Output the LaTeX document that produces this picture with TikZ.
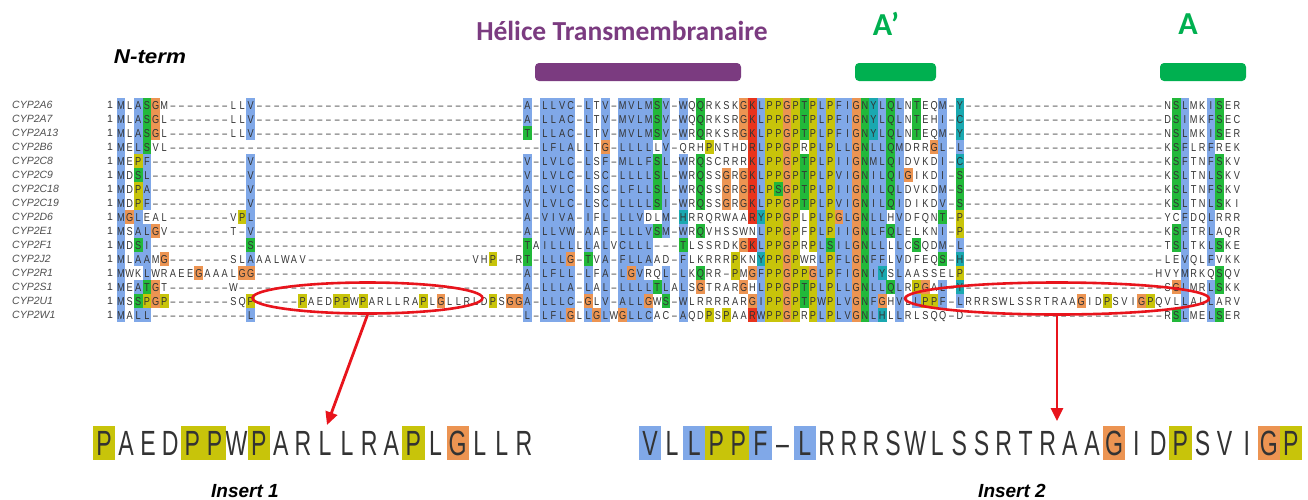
\documentclass[tikz,border=0pt]{standalone}
\usepackage{fontspec}
\setmainfont{Liberation Sans}
\newfontfamily\carlito{Carlito}
\usepackage{graphicx}
\usetikzlibrary{shapes.geometric,arrows.meta}

\definecolor{resb}{HTML}{80A8E8}
\definecolor{resg}{HTML}{22B83A}
\definecolor{resr}{HTML}{E8331C}
\definecolor{resc}{HTML}{1AA8B0}
\definecolor{reso}{HTML}{EC9452}
\definecolor{resy}{HTML}{C8C40A}
\definecolor{restxt}{HTML}{333333}
\definecolor{lblgray}{HTML}{505050}
\definecolor{helixpurple}{HTML}{7B3B80}
\definecolor{officegreen}{HTML}{00B050}
\definecolor{ellred}{HTML}{E8141C}

\newcount\ccol
\gdef\pendcol{n}
\def\sqxo{121}\def\sqp{8.65}\def\sqy{105}\def\sqhw{4.4}\def\sqhh{7.05}
\def\segname{a}
\newcommand\resfmt[1]{\scalebox{0.8}[1]{#1}}
\newcommand\gapfmt{\scalebox{0.75}[1]{–}}

\def\alcell#1{%
  \pgfmathsetmacro\cx{\sqxo+\sqp*\the\ccol}%
  \edef\cc{\pendcol}%
  \if G#1\def\cc{o}\fi
  \if P#1\def\cc{y}\fi
  \if n\cc\else
    \edef\cellcol{res\cc}%
    \fill[fill=\cellcol] (\cx-\sqhw,\sqy-\sqhh) rectangle (\cx+\sqhw,\sqy+\sqhh);%
  \fi
  \if -#1%
    \node[curres] (\segname-\the\ccol) at (\cx,\sqy) {\gapfmt};%
  \else
    \node[curres] (\segname-\the\ccol) at (\cx,\sqy) {\resfmt{#1}};%
  \fi}

\def\segloop#1{%
  \ifx\relax#1\let\segnext\relax
  \else
    \if b#1\gdef\pendcol{b}\let\segnext\segloop\else
    \if g#1\gdef\pendcol{g}\let\segnext\segloop\else
    \if r#1\gdef\pendcol{r}\let\segnext\segloop\else
    \if c#1\gdef\pendcol{c}\let\segnext\segloop\else
      \alcell{#1}\gdef\pendcol{n}\global\advance\ccol by 1\relax\let\segnext\segloop
    \fi\fi\fi\fi
  \fi\segnext}

% \seg{row}{startcol}{string}
\def\seg#1#2#3{%
  \pgfmathsetmacro\sqy{105+14*(#1-1)}%
  \def\segname{a#1}%
  \global\ccol=#2\relax\gdef\pendcol{n}%
  \segloop#3\relax}
% \dashrun{row}{from}{to}
\def\dashrun#1#2#3{%
  \foreach \k in {#2,...,#3}{%
    \pgfmathsetmacro\cx{121+8.65*\k}%
    \pgfmathsetmacro\cy{105+14*(#1-1)}%
    \node[curres] (a#1-\k) at (\cx,\cy) {\gapfmt};}}
% \iseg{name}{x of first}{string}
\def\iseg#1#2#3{%
  \def\sqxo{#2}\def\sqp{22.1}\def\sqy{443}\def\sqhw{11.1}\def\sqhh{17}%
  \def\segname{#1}%
  \global\ccol=0\relax\gdef\pendcol{n}%
  \segloop#3\relax}

\begin{document}
\begin{tikzpicture}[x=1pt,y=-1pt,
  resid/.style={inner sep=0pt, text=restxt, text height=8.2pt, text depth=0pt, font=\fontsize{11.5}{12}\selectfont},
  insres/.style={inner sep=0pt, text=restxt, text height=25pt, text depth=0pt, font=\fontsize{35}{36}\selectfont},
  curres/.style={resid},
  lbl/.style={anchor=west, inner sep=0pt, text=lblgray, text height=7.5pt, text depth=0pt, font=\fontsize{10.5}{12}\selectfont\itshape},
  numlbl/.style={inner sep=0pt, text=restxt, text height=7.5pt, text depth=0pt, font=\fontsize{10.5}{12}\selectfont},
  ntermlbl/.style={inner sep=0pt, font=\fontsize{20}{22}\selectfont\bfseries\itshape},
  helixlbl/.style={inner sep=0pt, text=helixpurple, font=\carlito\fontsize{27.5}{30}\selectfont\bfseries},
  greenlbl/.style={inner sep=0pt, text=officegreen, font=\carlito\fontsize{32}{34}\selectfont\bfseries},
  bar/.style={rounded corners=4pt, inner sep=0pt, minimum height=18pt},
  ell/.style={ellipse, draw=ellred, line width=2.6pt, inner sep=0pt},
  redarrow/.style={draw=ellred, line width=2.8pt, -{Triangle[length=13pt,width=12pt]}},
  inslbl/.style={inner sep=0pt, font=\fontsize{19}{21}\selectfont\bfseries\itshape}
]
\useasboundingbox (0,0) rectangle (1308,499);
\fill[white] (0,0) rectangle (1308,499);

% ---- top annotations
\node[ntermlbl] (nterm) at (150,57) {\scalebox{1.12}[1]{N-term}};
\node[helixlbl] (helixlbl) at (622,31) {Hélice Transmembranaire};
\node[greenlbl] (aplbl) at (886,24) {A’};
\node[greenlbl] (albl) at (1188,24) {A};
\node[bar, fill=helixpurple, minimum width=206pt] (helixbar) at (638,72) {};
\node[bar, fill=officegreen, minimum width=81pt] (apbar) at (895.5,72) {};
\node[bar, fill=officegreen, minimum width=86pt] (abar) at (1203,72) {};

% ---- row labels
\foreach \nm [count=\i] in {CYP2A6,CYP2A7,CYP2A13,CYP2B6,CYP2C8,CYP2C9,CYP2C18,CYP2C19,CYP2D6,CYP2E1,CYP2F1,CYP2J2,CYP2R1,CYP2S1,CYP2U1,CYP2W1}{
  \node[lbl] (lab\i) at (12,{105+14*(\i-1)}) {\nm};
  \node[numlbl] (num\i) at (110,{105+14*(\i-1)}) {1};
}

% ---- N-terminal part (cols 0-46)
\seg{1}{0}{bMLbAgSGM-------LLbV}\dashrun{1}{16}{46}
\seg{2}{0}{bMLbAgSGL-------LLbV}\dashrun{2}{16}{46}
\seg{3}{0}{bMLbAgSGL-------LLbV}\dashrun{3}{16}{46}
\seg{4}{0}{bMEbLgSVL}\dashrun{4}{6}{46}
\seg{5}{0}{bMEPbF-----------bV}\dashrun{5}{16}{46}
\seg{6}{0}{bMDgSbL-----------bV}\dashrun{6}{16}{46}
\seg{7}{0}{bMDPbA-----------bV}\dashrun{7}{16}{46}
\seg{8}{0}{bMDPbF-----------bV}\dashrun{8}{16}{46}
\seg{9}{0}{bMGbLEAL-------VPbL}\dashrun{9}{16}{46}
\seg{10}{0}{bMSbAbLGV-------T-bV}\dashrun{10}{16}{46}
\seg{11}{0}{bMDgSbI-----------gS}\dashrun{11}{16}{46}
\seg{12}{0}{bMLbAbAMG-------SLbAAALWAV}\dashrun{12}{22}{40}\seg{12}{41}{VHP--R}
\seg{13}{0}{bMWKbLWRAEEGAAALGG}\dashrun{13}{16}{46}
\seg{14}{0}{bMEbAgTGT-------W}\dashrun{14}{14}{46}
\seg{15}{0}{bMSgSPGP-------SQP-----PAEDPPWPARLLRAPLGLLRLDPSGG}
\seg{16}{0}{bMAbLbL-----------bL}\dashrun{16}{16}{46}

% ---- central part (cols 47-97)
\seg{1}{47}{bA-bLbLbVbC-bLTbV-bMbVbLbMgSbV-bWQgQRKSKGrKbLPPGPgTPbLPbFbIGgNcYbLgQbLNgTEQbM-cY}
\seg{2}{47}{bA-bLbLbAbC-bLTbV-bMbVbLbMgSbV-bWQgQRKSRGrKbLPPGPgTPbLPbFbIGgNcYbLgQbLNgTEHbI-cC}
\seg{3}{47}{gT-bLbLbAbC-bLTbV-bMbVbLbMgSbV-bWRgQRKSRGrKbLPPGPgTPbLPbFbIGgNcYbLgQbLNgTEQbM-cY}
\seg{4}{47}{--bLbFbLbALbLTG-bLbLbLbLLbV-QRHPNTHDrRbLPPGPRPbLPbLbLGgNbLbLgQbMDRRGbL-bL}
\seg{5}{47}{bV-bLbVbLbC-bLSbF-bMbLbLbFgSbL-bWRgQSCRRRrKbLPPGPgTPbLPbIbIGgNbMbLgQbIDVKDbI-cC}
\seg{6}{47}{bV-bLbVbLbC-bLSbC-bLbLbLbLgSbL-bWRgQSSGRGrKbLPPGPgTPbLPbVbIGgNbIbLgQbIGIKDbI-gS}
\seg{7}{47}{bA-bLbVbLbC-bLSbC-bLbFbLbLgSbL-bWRgQSSGRGrRbLPgSGPgTPbLPbIbIGgNbIbLgQbLDVKDbM-gS}
\seg{8}{47}{bV-bLbVbLbC-bLSbC-bLbLbLbLgSbI-bWRgQSSGRGrKbLPPGPgTPbLPbVbIGgNbIbLgQbIDIKDbV-gS}
\seg{9}{47}{bA-bVbIbVbA-bIFbL-bLbLbVDLbM-cHRRQRWAArRcYPPGPLPbLPGbLGgNbLbLHbVDFQNgT-P}
\seg{10}{47}{bA-bLbLbVbW-bAAbF-bLbLbLbVgSbM-bWRgQVHSSWNbLPPGPFPbLPbIbIGgNbLbFgQbLELKNbI-P}
\seg{11}{47}{gTAbIbLbLbLLbLAbLVbCbLbLbL---gTLSSRDKGrKbLPPGPRPbLgSbIbLGgNbLbLLbLCgSQDbM-bL}
\seg{12}{47}{gT-bLbLbLG-gTVbA-bFbLbLbAAD-bFLKRRRPKNcYPPGPWRbLPbFbLGgNbFbFLbVDFEQgS-cH}
\seg{13}{47}{bA-bLbFbLbL-bLFbA-bLGbVRQbL-bLKgQRR-PMGbFPPGPPGbLPbFbIGgNbIcYSbLAASSELP}
\seg{14}{47}{bA-bLbLbLbA-bLAbL-bLbLbLbLgTbLAbLSGTRARGHbLPPGPgTPbLPbLbLGgNbLbLgQbLRPGAbL-cY}
\seg{15}{47}{bA-bLbLbLbC-GLbV-bAbLbLGWgS-bWLRRRRARGbIPPGPgTPbWPbLbVGgNbFGHbVLbLPPbF-bL}
\seg{16}{47}{bL-bLbFbLGLbLGbLWGbLbLbCAC-bAQDPSPAArRbWPPGPRPbLPbLbVGgNbLcHLbLRLSQQ-D}

% ---- C-terminal part (cols 98-129)
\dashrun{1}{98}{120}\seg{1}{121}{NgSbLMKbIgSER}
\dashrun{2}{98}{120}\seg{2}{121}{DgSbIMKbFgSEC}
\dashrun{3}{98}{120}\seg{3}{121}{NgSbLMKbIgSER}
\dashrun{4}{98}{120}\seg{4}{121}{KgSbFLRbFREK}
\dashrun{5}{98}{120}\seg{5}{121}{KgSbFTNbFgSKV}
\dashrun{6}{98}{120}\seg{6}{121}{KgSbLTNbLgSKV}
\dashrun{7}{98}{120}\seg{7}{121}{KgSbLTNbFgSKV}
\dashrun{8}{98}{120}\seg{8}{121}{KgSbLTNbLgSKI}
\dashrun{9}{98}{120}\seg{9}{121}{YCbFDQbLRRR}
\dashrun{10}{98}{120}\seg{10}{121}{KgSbFTRbLAQR}
\dashrun{11}{98}{120}\seg{11}{121}{TgSbLTKbLgSKE}
\dashrun{12}{98}{120}\seg{12}{121}{LEbVQLbFVKK}
\dashrun{13}{98}{119}\seg{13}{120}{HVYbMRKQgSQV}
\dashrun{14}{98}{120}\seg{14}{121}{SGbLMRbLgSKK}
\seg{15}{98}{RRRSWLSSRTRAAGIDPSVIGPQVLbLALbLARV}
\dashrun{16}{98}{120}\seg{16}{121}{RgSbLMEbLgSER}

% ---- inserts (zoomed)
\tikzset{curres/.style={insres}}
\renewcommand\resfmt[1]{\scalebox{0.66}[1]{#1}}
\renewcommand\gapfmt{\scalebox{0.66}[1]{–}}
\iseg{ia}{104}{PAEDPPWPARLLRAPLGLLR}
\iseg{ib}{650}{bVLbLPPbF-bLRRRSWLSSRTRAAGIDPSVIGP}

% ---- ellipses and arrows
\node[ell, minimum width=230pt, minimum height=31pt] (ell1) at (367.5,298) {};
\node[ell, minimum width=304pt, minimum height=32pt] (ell2) at (1057,298.5) {};
\coordinate (ins1tip) at (327,425);
\coordinate (ins2tip) at (1057,421);
\draw[redarrow] (ell1.south) -- (ins1tip);
\draw[redarrow] (ell2.south) -- (ins2tip);

\node[inslbl] (ins1lbl) at (245,491) {Insert 1};
\node[inslbl] (ins2lbl) at (1012,491) {Insert 2};
\end{tikzpicture}
\end{document}
